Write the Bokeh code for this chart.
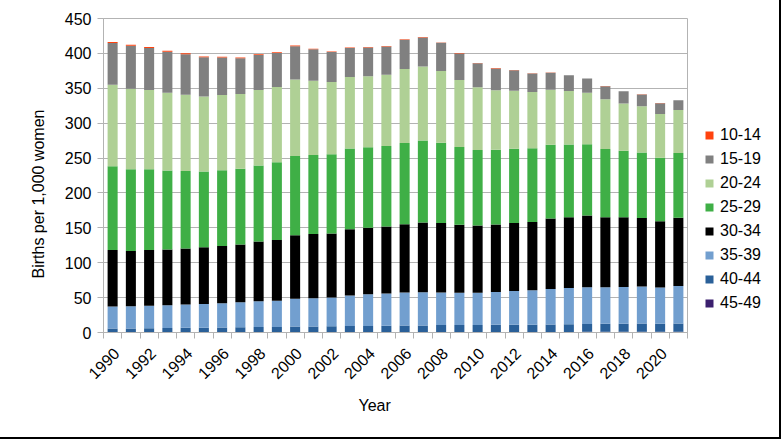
import math
from bokeh.plotting import figure
from bokeh.models import (ColumnDataSource, Legend, LegendItem, FixedTicker,
                          Range1d, Title, CustomJSTickFormatter)
from bokeh.embed import file_html
from bokeh.resources import INLINE

years = list(range(1990, 2022))
age_groups = ["45-49", "40-44", "35-39", "30-34", "25-29", "20-24", "15-19", "10-14"]

r10_14 = [1.4, 1.4, 1.4, 1.4, 1.4, 1.3, 1.2, 1.1, 1.0, 0.9, 0.9, 0.8, 0.7, 0.6, 0.7, 0.7,
          0.6, 0.6, 0.6, 0.5, 0.4, 0.4, 0.4, 0.3, 0.3, 0.2, 0.2, 0.2, 0.2, 0.2, 0.2, 0.2]
r15_19 = [59.9, 61.8, 60.3, 59.0, 58.2, 56.0, 53.5, 51.3, 50.3, 48.8, 47.7, 45.3, 43.0, 41.6, 41.1, 40.5,
          41.9, 41.5, 40.2, 37.9, 34.2, 31.3, 29.4, 26.5, 24.2, 22.3, 20.3, 18.8, 17.4, 16.7, 15.4, 13.9]
r20_24 = [116.5, 115.3, 113.7, 111.3, 109.2, 107.5, 107.8, 107.3, 108.2, 107.9, 109.7, 106.2, 103.6, 102.6, 101.7, 102.2,
          105.9, 106.3, 103.0, 96.2, 90.0, 85.3, 83.1, 80.7, 79.0, 76.8, 73.8, 71.0, 68.0, 66.6, 62.8, 61.5]
r25_29 = [120.2, 117.2, 115.7, 113.2, 111.0, 108.8, 108.6, 108.3, 108.9, 111.2, 113.5, 113.4, 113.6, 115.6, 115.5, 115.5,
          116.7, 117.5, 115.1, 111.5, 108.3, 107.2, 106.5, 105.5, 105.8, 104.3, 102.1, 98.0, 95.3, 93.7, 90.9, 93.0]
r30_34 = [80.8, 79.2, 79.6, 79.9, 80.4, 81.1, 82.1, 83.0, 85.7, 87.1, 91.2, 91.9, 91.5, 95.1, 95.3, 95.8,
          97.7, 99.9, 99.3, 97.5, 96.5, 96.5, 97.3, 98.0, 100.8, 101.5, 102.7, 100.3, 99.7, 98.3, 94.9, 97.6]
r35_39 = [31.7, 31.9, 32.3, 32.7, 33.4, 34.0, 34.9, 35.7, 36.9, 37.8, 39.7, 40.6, 41.4, 43.8, 45.4, 46.3,
          47.3, 47.5, 46.9, 46.1, 45.9, 47.2, 48.3, 49.3, 51.0, 51.8, 52.7, 52.3, 52.6, 52.8, 51.9, 53.7]
r40_44 = [5.5, 5.5, 5.9, 6.1, 6.4, 6.6, 6.8, 7.1, 7.4, 7.4, 8.0, 8.1, 8.3, 8.7, 8.9, 9.1,
          9.4, 9.5, 9.9, 10.0, 10.2, 10.3, 10.4, 10.4, 10.6, 11.0, 11.4, 11.6, 11.8, 12.0, 11.8, 12.0]
r45_49 = [0.2, 0.2, 0.3, 0.3, 0.3, 0.3, 0.3, 0.4, 0.4, 0.4, 0.5, 0.5, 0.5, 0.5, 0.5, 0.6,
          0.6, 0.6, 0.7, 0.7, 0.7, 0.7, 0.8, 0.8, 0.8, 0.8, 0.9, 0.9, 0.9, 1.0, 0.9, 1.0]

y_ticks = [0, 50, 100, 150, 200, 250, 300, 350, 400, 450]
x_label_years = list(range(1990, 2022, 2))

colors = ["#3b1f6e", "#2a6099", "#729fcf", "#000000", "#3faf46", "#afd095", "#808080", "#ff420e"]

source = ColumnDataSource(data={
    "year": years,
    "45-49": r45_49, "40-44": r40_44, "35-39": r35_39, "30-34": r30_34,
    "25-29": r25_29, "20-24": r20_24, "15-19": r15_19, "10-14": r10_14,
})

FONT = "Liberation Sans"

p = figure(frame_width=584, frame_height=314, output_backend="svg", toolbar_location=None,
           x_range=Range1d(1989.5, 2021.5), y_range=Range1d(0, 450),
           min_border_left=103, min_border_right=0, min_border_top=18, min_border_bottom=105)

renderers = p.vbar_stack(age_groups, x="year", width=0.55, color=colors, line_color=None,
                         source=source)

items = [LegendItem(label=g, renderers=[r]) for g, r in zip(age_groups, renderers)]
items = items[::-1]
legend = Legend(items=items, location="bottom_left", orientation="vertical",
                glyph_width=10, glyph_height=10, label_standoff=6, spacing=0,
                label_height=24, padding=0, margin=17,
                label_text_font=FONT, label_text_font_size="16px", label_text_color="#000000",
                border_line_color=None, background_fill_alpha=0)
p.add_layout(legend, "right")

# axes: labels under every other bar, tick marks between bars
p.xaxis.ticker = FixedTicker(ticks=[y + 0.2 for y in x_label_years],
                             minor_ticks=[y - 0.5 for y in years] + [years[-1] + 0.5])
p.xaxis.formatter = CustomJSTickFormatter(code="return String(Math.floor(tick));")
p.xaxis.major_label_orientation = math.pi / 4
p.xaxis.major_tick_out = 0
p.xaxis.major_tick_in = 0
p.xaxis.minor_tick_out = 6
p.xaxis.minor_tick_in = 0
p.xaxis.minor_tick_line_color = "#b3b3b3"
p.xaxis.axis_line_color = "#b3b3b3"
p.xaxis.major_label_text_font = FONT
p.xaxis.major_label_text_font_size = "16px"
p.xaxis.major_label_text_color = "#000000"
p.xaxis.major_label_standoff = 12

p.yaxis.ticker = FixedTicker(ticks=y_ticks, minor_ticks=[])
p.yaxis.major_tick_out = 6
p.yaxis.major_tick_in = 0
p.yaxis.major_tick_line_color = "#b3b3b3"
p.yaxis.axis_line_color = "#b3b3b3"
p.yaxis.major_label_text_font = FONT
p.yaxis.major_label_text_font_size = "16px"
p.yaxis.major_label_text_color = "#000000"
p.yaxis.major_label_standoff = 6

p.add_layout(Title(text="Year", align="left", offset=255, text_font=FONT,
                   text_font_size="16px", text_font_style="normal", text_color="#000000",
                   standoff=14), "below")
p.add_layout(Title(text="Births per 1,000 women", align="left", offset=54, text_font=FONT,
                   text_font_size="16px", text_font_style="normal", text_color="#000000",
                   standoff=30), "left")

p.xgrid.grid_line_color = None
p.ygrid.grid_line_color = "#b3b3b3"
p.ygrid.ticker = FixedTicker(ticks=y_ticks)
p.outline_line_color = "#b3b3b3"
p.background_fill_color = "white"
p.border_fill_color = "white"
p.styles = {"width": "779px", "height": "437px", "overflow": "hidden",
            "box-sizing": "content-box",
            "border-right": "2px solid #000000", "border-bottom": "2px solid #000000"}

open("out.html", "w").write(file_html(p, INLINE))
